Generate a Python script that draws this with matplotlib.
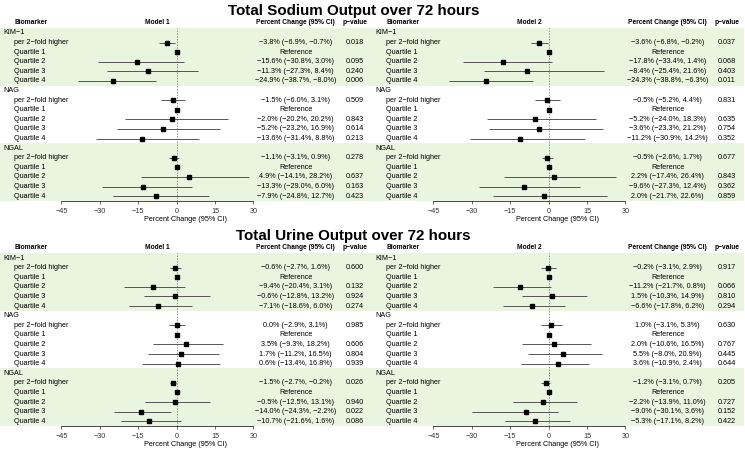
import numpy as np
import matplotlib.pyplot as plt

plt.rcParams['font.family'] = ['Liberation Sans', 'DejaVu Sans']

groups = ["KIM-1", "NAG", "NGAL"]
terms = ["per 2-fold higher", "Quartile 1", "Quartile 2", "Quartile 3", "Quartile 4"]
ticks = [-45, -30, -15, 0, 15, 30]
titles = ["Total Sodium Output over 72 hours", "Total Urine Output over 72 hours"]
models = ["Model 1", "Model 2"]

# Total sodium output, model 1
na_m1_est = [-3.8, 0, -15.6, -11.3, -24.9, -1.5, 0, -2.0, -5.2, -13.6, -1.1, 0, 4.9, -13.3, -7.9]
na_m1_lo = [-6.9, None, -30.8, -27.3, -38.7, -6.0, None, -20.2, -23.2, -31.4, -3.1, None, -14.1, -29.0, -24.8]
na_m1_hi = [-0.7, None, 3.0, 8.4, -8.0, 3.1, None, 20.2, 16.9, 8.8, 0.9, None, 28.2, 6.0, 12.7]
na_m1_ci = ["-3.8% (-6.9%, -0.7%)", "Reference", "-15.6% (-30.8%, 3.0%)", "-11.3% (-27.3%, 8.4%)",
            "-24.9% (-38.7%, -8.0%)", "-1.5% (-6.0%, 3.1%)", "Reference", "-2.0% (-20.2%, 20.2%)",
            "-5.2% (-23.2%, 16.9%)", "-13.6% (-31.4%, 8.8%)", "-1.1% (-3.1%, 0.9%)", "Reference",
            "4.9% (-14.1%, 28.2%)", "-13.3% (-29.0%, 6.0%)", "-7.9% (-24.8%, 12.7%)"]
na_m1_p = ["0.018", "", "0.095", "0.240", "0.006", "0.509", "", "0.843", "0.614", "0.213",
           "0.278", "", "0.637", "0.163", "0.423"]

# Total sodium output, model 2
na_m2_est = [-3.6, 0, -17.8, -8.4, -24.3, -0.5, 0, -5.2, -3.6, -11.2, -0.5, 0, 2.2, -9.6, -2.0]
na_m2_lo = [-6.8, None, -33.4, -25.4, -38.8, -5.2, None, -24.0, -23.3, -30.9, -2.6, None, -17.4, -27.3, -21.7]
na_m2_hi = [-0.2, None, 1.4, 21.6, -6.3, 4.4, None, 18.3, 21.2, 14.2, 1.7, None, 26.4, 12.4, 22.6]
na_m2_ci = ["-3.6% (-6.8%, -0.2%)", "Reference", "-17.8% (-33.4%, 1.4%)", "-8.4% (-25.4%, 21.6%)",
            "-24.3% (-38.8%, -6.3%)", "-0.5% (-5.2%, 4.4%)", "Reference", "-5.2% (-24.0%, 18.3%)",
            "-3.6% (-23.3%, 21.2%)", "-11.2% (-30.9%, 14.2%)", "-0.5% (-2.6%, 1.7%)", "Reference",
            "2.2% (-17.4%, 26.4%)", "-9.6% (-27.3%, 12.4%)", "2.0% (-21.7%, 22.6%)"]
na_m2_p = ["0.037", "", "0.068", "0.403", "0.011", "0.831", "", "0.635", "0.754", "0.352",
           "0.677", "", "0.843", "0.362", "0.859"]

# Total urine output, model 1
uo_m1_est = [-0.6, 0, -9.4, -0.6, -7.1, 0.0, 0, 3.5, 1.7, 0.6, -1.5, 0, -0.5, -14.0, -10.7]
uo_m1_lo = [-2.7, None, -20.4, -12.8, -18.6, -2.9, None, -9.3, -11.2, -13.4, -2.7, None, -12.5, -24.3, -21.6]
uo_m1_hi = [1.6, None, 3.1, 13.2, 6.0, 3.1, None, 18.2, 16.5, 16.8, -0.2, None, 13.1, -2.2, 1.6]
uo_m1_ci = ["-0.6% (-2.7%, 1.6%)", "Reference", "-9.4% (-20.4%, 3.1%)", "-0.6% (-12.8%, 13.2%)",
            "-7.1% (-18.6%, 6.0%)", "0.0% (-2.9%, 3.1%)", "Reference", "3.5% (-9.3%, 18.2%)",
            "1.7% (-11.2%, 16.5%)", "0.6% (-13.4%, 16.8%)", "-1.5% (-2.7%, -0.2%)", "Reference",
            "-0.5% (-12.5%, 13.1%)", "-14.0% (-24.3%, -2.2%)", "-10.7% (-21.6%, 1.6%)"]
uo_m1_p = ["0.600", "", "0.132", "0.924", "0.274", "0.985", "", "0.606", "0.804", "0.939",
           "0.026", "", "0.940", "0.022", "0.086"]

# Total urine output, model 2
uo_m2_est = [-0.2, 0, -11.2, 1.5, -6.6, 1.0, 0, 2.0, 5.5, 3.6, -1.2, 0, -2.2, -9.0, -5.3]
uo_m2_lo = [-3.1, None, -21.7, -10.3, -17.8, -3.1, None, -10.6, -8.0, -10.9, -3.1, None, -13.9, -30.1, -17.1]
uo_m2_hi = [2.9, None, 0.8, 14.9, 6.2, 5.3, None, 16.5, 20.9, 15.6, 0.7, None, 11.0, 3.6, 8.2]
uo_m2_ci = ["-0.2% (-3.1%, 2.9%)", "Reference", "-11.2% (-21.7%, 0.8%)", "1.5% (-10.3%, 14.9%)",
            "-6.6% (-17.8%, 6.2%)", "1.0% (-3.1%, 5.3%)", "Reference", "2.0% (-10.6%, 16.5%)",
            "5.5% (-8.0%, 20.9%)", "3.6% (-10.9%, 2.4%)", "-1.2% (-3.1%, 0.7%)", "Reference",
            "-2.2% (-13.9%, 11.0%)", "-9.0% (-30.1%, 3.6%)", "-5.3% (-17.1%, 8.2%)"]
uo_m2_p = ["0.917", "", "0.066", "0.810", "0.294", "0.630", "", "0.767", "0.445", "0.644",
           "0.205", "", "0.727", "0.152", "0.422"]

GREEN = '#eaf5e0'
FS = 5.2
W, H = 745.0, 450.0


def m(s):  # R style minus sign
    return s.replace("-", "\u2212")


def draw_panel(ax, model, est, lo, hi, ci, pv):
    est = np.array(est, dtype=float)
    lo = np.array(lo, dtype=float)
    hi = np.array(hi, dtype=float)
    ypos = []
    for gi, g in enumerate(groups):
        y0 = gi * 6
        if gi != 1:
            ax.axhspan(y0 - 0.5, y0 + 5.5, color=GREEN, lw=0, zorder=0)
        ax.text(-67.8, y0, m(g), fontsize=FS, va='center', ha='left')
        for ti, t in enumerate(terms):
            y = y0 + 1 + ti
            k = gi * 5 + ti
            ax.text(-63.5, y, m(t), fontsize=FS, va='center', ha='left')
            ax.text(46.5, y, m(ci[k]), fontsize=FS, va='center', ha='center')
            ax.text(69.5, y, pv[k], fontsize=FS, va='center', ha='center')
            ypos.append(y)
    ypos = np.array(ypos)
    ax.axvline(0, color='#666666', lw=0.5, ls=(0, (2, 2)), zorder=1)
    ax.hlines(ypos, lo, hi, color='#555555', lw=0.7, zorder=2)
    ax.plot(est, ypos, 's', color='black', ms=3.2, zorder=3)

    hy = -1.05
    kw = dict(fontsize=4.8, fontweight='bold', va='center', ha='center', clip_on=False)
    ax.text(-56.9, hy, "Biomarker", **kw)
    ax.text(-7.5, hy, model, **kw)
    ax.text(46.5, hy, "Percent Change (95% CI)", **kw)
    ax.text(69.5, hy, m("p-value"), **kw)

    ax.set_xlim(-69, 76.3)
    ax.set_ylim(17.5, -0.5)
    for s in ['top', 'left', 'right']:
        ax.spines[s].set_visible(False)
    ax.spines['bottom'].set_bounds(ticks[0], ticks[-1])
    ax.spines['bottom'].set_linewidth(0.5)
    ax.set_xticks(ticks)
    ax.set_xticklabels([m(str(t)) for t in ticks])
    ax.tick_params(axis='x', labelsize=FS, length=2.2, width=0.5, pad=2.5, colors='#333333')
    ax.set_yticks([])
    ax.set_xlabel("Percent Change (95% CI)", fontsize=FS, labelpad=1.0)
    ax.patch.set_alpha(0)


fig = plt.figure(figsize=(W / 100, H / 100), dpi=100)

panels = [
    [(na_m1_est, na_m1_lo, na_m1_hi, na_m1_ci, na_m1_p),
     (na_m2_est, na_m2_lo, na_m2_hi, na_m2_ci, na_m2_p)],
    [(uo_m1_est, uo_m1_lo, uo_m1_hi, uo_m1_ci, uo_m1_p),
     (uo_m2_est, uo_m2_lo, uo_m2_hi, uo_m2_ci, uo_m2_p)],
]

for bi in range(2):
    b = bi * 225
    fig.text(353.5 / W, 1 - (b + 11) / H, titles[bi], fontsize=10.9, fontweight='bold',
             ha='center', va='center')
    for pi in range(2):
        left = pi * 372
        ax = fig.add_axes([left / W, 1 - (b + 201) / H, 372 / W, 172.8 / H])
        draw_panel(ax, models[pi], *panels[bi][pi])

fig.savefig("out.png", dpi=100)
